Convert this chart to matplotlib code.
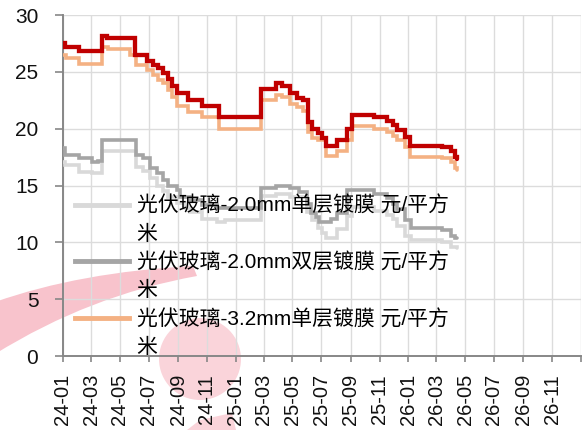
import matplotlib
matplotlib.use("Agg")
import matplotlib.pyplot as plt
from matplotlib.lines import Line2D
from matplotlib.path import Path
from matplotlib.patches import PathPatch, Circle, Polygon
import pandas as pd

plt.rcParams['font.family'] = ['Liberation Sans', 'Noto Sans CJK SC', 'DejaVu Sans']

# ---- price series (step changes), 元/平方米 ----
red_dates = ["2024-01-01", "2024-01-06", "2024-02-05", "2024-03-25", "2024-04-03",
             "2024-06-01", "2024-06-28", "2024-07-09", "2024-07-20", "2024-07-31",
             "2024-08-10", "2024-08-19", "2024-08-29", "2024-09-21", "2024-10-21",
             "2024-11-26", "2025-02-23", "2025-03-28", "2025-04-08", "2025-04-26",
             "2025-05-10", "2025-05-24", "2025-06-02", "2025-06-12", "2025-06-23",
             "2025-07-03", "2025-07-11", "2025-08-04", "2025-08-25", "2025-09-03",
             "2025-10-21", "2025-11-16", "2025-11-29", "2025-12-09", "2025-12-24",
             "2026-01-04", "2026-03-13", "2026-04-02", "2026-04-09", "2026-04-14"]
red_values = [27.5, 27.2, 26.8, 28.2, 28.0,
              26.5, 26.0, 25.6, 25.3, 24.9,
              24.4, 23.8, 23.1, 22.5, 22.0,
              21.0, 23.5, 24.0, 23.8, 23.1,
              22.7, 22.5, 20.6, 20.0, 19.6,
              19.2, 18.5, 19.0, 20.0, 21.2,
              21.0, 20.7, 20.3, 19.9, 19.3,
              18.5, 18.4, 18.0, 17.5, 17.3]

orange_dates = ["2024-01-01", "2024-01-08", "2024-02-05", "2024-03-25", "2024-04-05",
                "2024-05-22", "2024-06-05", "2024-06-28", "2024-07-09", "2024-07-20",
                "2024-07-31", "2024-08-10", "2024-08-19", "2024-08-29", "2024-09-21",
                "2024-10-21", "2024-11-26", "2025-02-23", "2025-03-28", "2025-04-08",
                "2025-04-26", "2025-05-10", "2025-05-24", "2025-06-02", "2025-06-12",
                "2025-06-23", "2025-07-11", "2025-08-04", "2025-08-25", "2025-09-03",
                "2025-10-21", "2025-11-16", "2025-11-29", "2025-12-09", "2025-12-24",
                "2026-01-04", "2026-03-13", "2026-04-02", "2026-04-09", "2026-04-14"]
orange_values = [26.5, 26.2, 25.7, 27.2, 27.0,
                 26.5, 25.6, 25.2, 24.7, 24.3,
                 24.0, 23.4, 22.8, 22.0, 21.5,
                 21.0, 20.0, 22.5, 23.0, 22.8,
                 22.2, 21.9, 21.6, 19.7, 19.2,
                 19.0, 17.6, 18.0, 19.0, 20.2,
                 20.0, 19.7, 19.4, 19.0, 18.4,
                 17.5, 17.4, 17.1, 16.5, 16.4]

dgray_dates = ["2024-01-01", "2024-01-06", "2024-02-05", "2024-03-04", "2024-03-15",
               "2024-03-25", "2024-06-05", "2024-06-18", "2024-07-03", "2024-07-18",
               "2024-07-31", "2024-08-10", "2024-08-29", "2024-09-05", "2024-09-26",
               "2024-10-21", "2024-11-22", "2025-02-23", "2025-03-28", "2025-04-26",
               "2025-05-15", "2025-05-31", "2025-06-09", "2025-06-20", "2025-06-27",
               "2025-07-22", "2025-08-04", "2025-08-25", "2025-10-21", "2025-11-16",
               "2025-11-29", "2025-12-09", "2025-12-24", "2026-01-06", "2026-03-13",
               "2026-04-02", "2026-04-09", "2026-04-14"]
dgray_values = [18.3, 17.7, 17.4, 17.1, 17.2,
                19.0, 17.7, 17.4, 16.5, 16.1,
                15.5, 15.0, 14.6, 14.0, 13.7,
                13.3, 13.0, 14.8, 15.0, 14.8,
                14.45, 13.4, 12.6, 12.2, 11.8,
                12.1, 12.6, 14.6, 14.3, 13.9,
                13.4, 12.9, 12.0, 11.3, 11.1,
                10.6, 10.4, 10.4]

lgray_dates = ["2024-01-01", "2024-01-06", "2024-02-05", "2024-03-04", "2024-03-25",
               "2024-06-05", "2024-06-18", "2024-07-03", "2024-07-18", "2024-07-31",
               "2024-08-10", "2024-08-29", "2024-09-15", "2024-09-26", "2024-10-21",
               "2024-11-22", "2024-12-09", "2025-02-23", "2025-03-28", "2025-04-26",
               "2025-05-31", "2025-06-12", "2025-06-23", "2025-07-03", "2025-07-11",
               "2025-08-04", "2025-08-25", "2025-09-03", "2025-10-21", "2025-11-16",
               "2025-11-29", "2025-12-09", "2025-12-24", "2026-01-06", "2026-03-13",
               "2026-04-02", "2026-04-14"]
lgray_values = [17.1, 16.8, 16.2, 16.1, 18.0,
                16.6, 16.3, 15.7, 15.0, 14.5,
                14.0, 13.5, 13.0, 12.7, 12.1,
                11.8, 12.0, 14.1, 14.3, 14.0,
                12.7, 12.0, 11.3, 10.8, 10.4,
                11.2, 12.3, 13.1, 12.8, 12.4,
                12.1, 11.4, 10.6, 10.2, 10.05,
                9.6, 9.5]

legend_labels = ["光伏玻璃-2.0mm单层镀膜 元/平方",
                 "光伏玻璃-2.0mm双层镀膜 元/平方",
                 "光伏玻璃-3.2mm单层镀膜 元/平方"]
legend_wrap = "米"

tick_labels = ["24-01", "24-03", "24-05", "24-07", "24-09", "24-11",
               "25-01", "25-03", "25-05", "25-07", "25-09", "25-11",
               "26-01", "26-03", "26-05", "26-07", "26-09", "26-11"]

C_RED = "#C00000"
C_ORANGE = "#F4B183"
C_DGRAY = "#A5A5A5"
C_LGRAY = "#D9D9D9"
C_AXIS = "#878787"
C_GRID = "#DCDCDC"

fig = plt.figure(figsize=(5.83, 4.30), dpi=100)
ax = fig.add_axes([0.1075, 0.172, 0.889, 0.793])
ax.set_facecolor("none")

# faint logo watermark behind the plot
wm = "#FAD4DA"
verts = [(-0.05, 4.30 - 3.02), (0.80, 4.30 - 2.72), (1.93, 4.30 - 2.66),
         (1.97, 4.30 - 2.76), (0.90, 4.30 - 2.95), (-0.05, 4.30 - 3.54),
         (-0.05, 4.30 - 3.02)]
codes = [Path.MOVETO, Path.CURVE3, Path.CURVE3, Path.LINETO, Path.CURVE3,
         Path.CURVE3, Path.CLOSEPOLY]
fig.patches.append(PathPatch(Path(verts, codes), transform=fig.dpi_scale_trans,
                             facecolor="#F8C3CC", edgecolor="none", zorder=-1))
fig.patches.append(Circle((2.00, 4.30 - 3.59), 0.41, transform=fig.dpi_scale_trans,
                          facecolor=wm, edgecolor="none", zorder=-1))
fig.patches.append(Polygon([(1.87, 0.0), (2.00, 0.10), (2.32, 0.17), (2.36, 0.0)],
                           closed=True, transform=fig.dpi_scale_trans,
                           facecolor=wm, edgecolor="none", zorder=-1))

def draw(dates, values, color, lw, z):
    ax.step(pd.to_datetime(dates), values, where="post", color=color, lw=lw,
            solid_capstyle="round", solid_joinstyle="miter", zorder=z)

draw(lgray_dates, lgray_values, C_LGRAY, 2.6, 3)
draw(dgray_dates, dgray_values, C_DGRAY, 2.6, 4)
draw(orange_dates, orange_values, C_ORANGE, 2.6, 5)
draw(red_dates, red_values, C_RED, 3.1, 6)

# axes
tick_pos = pd.to_datetime(["20" + t + "-01" for t in tick_labels])
ax.set_xlim(pd.Timestamp("2024-01-01"), pd.Timestamp("2027-01-01"))
ax.set_ylim(0, 30)
ax.set_xticks(tick_pos)
ax.set_xticklabels(tick_labels, rotation=90)
ax.set_xticks([pd.Timestamp("2027-01-01")], minor=True)
ax.set_yticks(range(0, 31, 5))
ax.grid(True, which="both", color=C_GRID, lw=1.0, zorder=1)
ax.set_axisbelow(True)
for s in ("top", "right"):
    ax.spines[s].set_visible(False)
for s in ("left", "bottom"):
    ax.spines[s].set_color(C_AXIS)
    ax.spines[s].set_linewidth(1.4)
ax.tick_params(axis="y", which="major", length=5.5, width=1.2, color=C_AXIS,
               labelsize=15, pad=12, labelcolor="#111111")
ax.tick_params(axis="x", which="both", length=4, width=1.2, color=C_AXIS,
               labelsize=14.5, pad=9, labelcolor="#111111")

# legend: each label wraps its last character onto a second row
blank = Line2D([], [], color="none")
handles = [Line2D([], [], color=C_LGRAY, lw=3.5), blank,
           Line2D([], [], color=C_DGRAY, lw=3.5), blank,
           Line2D([], [], color=C_ORANGE, lw=3.5), blank]
labels = [legend_labels[0], legend_wrap, legend_labels[1], legend_wrap,
          legend_labels[2], legend_wrap]
leg = ax.legend(handles, labels, loc="upper left", bbox_to_anchor=(0.024, 0.47),
                frameon=False, fontsize=15, handlelength=2.6, handletextpad=0.35,
                labelspacing=0.42, borderpad=0, borderaxespad=0)
leg.set_zorder(10)

fig.savefig("out.png", dpi=100)
